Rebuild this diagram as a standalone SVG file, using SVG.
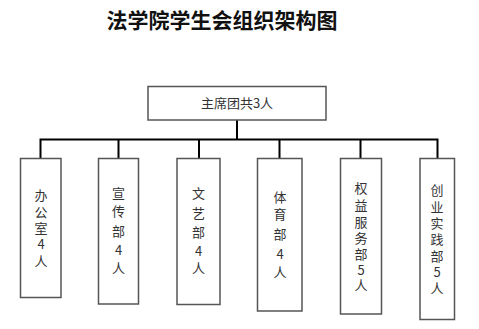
<svg xmlns="http://www.w3.org/2000/svg" width="479" height="329" viewBox="0 0 479 329">
<style>
.box{fill:#fff;stroke:#555;stroke-width:1.5}
.conn{stroke:#000;stroke-width:2;fill:none}
.t{font-family:"Noto Sans CJK SC","Liberation Sans",sans-serif;font-size:13px;fill:#333;text-anchor:middle}
.title{font-family:"Noto Sans CJK SC","Liberation Sans",sans-serif;font-size:21px;font-weight:bold;fill:#111;text-anchor:middle}
</style>
<rect width="479" height="329" fill="#fff"/>
<text class="title" x="222" y="28">法学院学生会组织架构图</text>
<g id="connectors">
<path class="conn" d="M237,120 V139.5 M40.5,139.5 H437.5 M40.5,138.5 V158 M118.5,139.5 V158 M199,139.5 V158 M279.5,139.5 V158 M360.5,139.5 V158 M437.5,138.5 V158"/>
</g>
<g id="top">
<rect class="box" x="148" y="86.5" width="178" height="33.5"/>
<text class="t" x="237" y="108">主席团共3人</text>
</g>
<g id="n1">
<rect class="box" x="20.5" y="158.5" width="40.5" height="139"/>
<text class="t" x="41"><tspan x="41" y="200">办</tspan><tspan x="41" y="217">公</tspan><tspan x="41" y="233">室</tspan><tspan x="41" y="249">4</tspan><tspan x="41" y="266">人</tspan></text>
</g>
<g id="n2">
<rect class="box" x="98.5" y="158.5" width="40" height="145.5"/>
<text class="t" x="118.5"><tspan x="118.5" y="198">宣</tspan><tspan x="118.5" y="216">传</tspan><tspan x="118.5" y="236">部</tspan><tspan x="118.5" y="255">4</tspan><tspan x="118.5" y="273">人</tspan></text>
</g>
<g id="n3">
<rect class="box" x="177" y="158.5" width="43" height="146"/>
<text class="t" x="198.5"><tspan x="198.5" y="198">文</tspan><tspan x="198.5" y="218">艺</tspan><tspan x="198.5" y="237">部</tspan><tspan x="198.5" y="256">4</tspan><tspan x="198.5" y="273">人</tspan></text>
</g>
<g id="n4">
<rect class="box" x="257.5" y="158.5" width="44.5" height="152.5"/>
<text class="t" x="280"><tspan x="280" y="202">体</tspan><tspan x="280" y="219">育</tspan><tspan x="280" y="239">部</tspan><tspan x="280" y="259">4</tspan><tspan x="280" y="277">人</tspan></text>
</g>
<g id="n5">
<rect class="box" x="340.5" y="158.5" width="41" height="155.5"/>
<text class="t" x="361"><tspan x="361" y="193">权</tspan><tspan x="361" y="210">益</tspan><tspan x="361" y="227">服</tspan><tspan x="361" y="243">务</tspan><tspan x="361" y="259">部</tspan><tspan x="361" y="275">5</tspan><tspan x="361" y="290">人</tspan></text>
</g>
<g id="n6">
<rect class="box" x="420" y="158.5" width="34.5" height="161"/>
<text class="t" x="437"><tspan x="437" y="195">创</tspan><tspan x="437" y="212">业</tspan><tspan x="437" y="228">实</tspan><tspan x="437" y="244">践</tspan><tspan x="437" y="261">部</tspan><tspan x="437" y="277">5</tspan><tspan x="437" y="293">人</tspan></text>
</g>
</svg>
